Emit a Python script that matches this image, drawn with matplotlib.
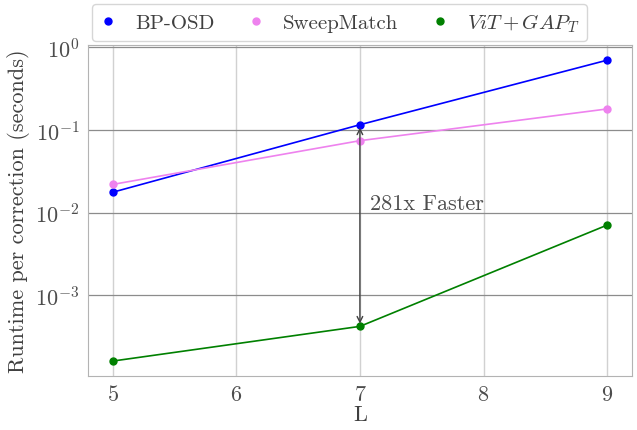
import numpy as np
import matplotlib
matplotlib.use('Agg')
import matplotlib.pyplot as plt

plt.rcParams['font.family'] = 'serif'
plt.rcParams['font.serif'] = ['cmr10']
plt.rcParams['mathtext.fontset'] = 'cm'
plt.rcParams['axes.unicode_minus'] = False
plt.rcParams['axes.formatter.use_mathtext'] = True

L = [5, 7, 9]
bp_osd = [0.0177, 0.116, 0.70]
sweep = [0.022, 0.0744, 0.180]
vit_gap = [1.61e-4, 4.23e-4, 7.1e-3]

fig, ax = plt.subplots(figsize=(6.37, 4.31), dpi=100)

ax.plot(L, bp_osd, color='blue', marker='o', markersize=5, lw=1.2, label='BP-OSD')
ax.plot(L, sweep, color='violet', marker='o', markersize=5, lw=1.2, label='SweepMatch')
ax.plot(L, vit_gap, color='green', marker='o', markersize=5, lw=1.2, label=r'$ViT + GAP_T$')

ax.set_yscale('log')
ax.set_xticks([5, 6, 7, 8, 9])
ax.grid(axis='y', which='major', color='0.55', lw=0.9)
ax.grid(axis='x', which='major', color='0.82', lw=1.0)
ax.set_axisbelow(True)
ax.tick_params(length=0, labelsize=16, pad=6, colors='0.3')
ax.minorticks_off()
for s in ax.spines.values():
    s.set_color('0.7')

ax.set_xlabel('L', fontsize=16, labelpad=0, color='0.25')
ax.set_ylabel('Runtime per correction (seconds)', fontsize=16, color='0.25')

ax.annotate('', xy=(7, bp_osd[1]), xytext=(7, vit_gap[1]),
            arrowprops=dict(arrowstyle='<->', color='0.25', lw=1.0))
ax.text(7.08, 0.013, '281x Faster', fontsize=16, color='0.3', va='center')

# legend markers only
handles = [plt.Line2D([], [], color=c, marker='o', ls='', markersize=5)
           for c in ['blue', 'violet', 'green']]
leg = ax.legend(handles, ['BP-OSD', 'SweepMatch', r'$ViT + GAP_T$'], ncol=3,
                loc='lower left', bbox_to_anchor=(0.0, 1.0), fontsize=15,
                columnspacing=1.6, handlelength=0.8, handletextpad=0.9,
                borderaxespad=0.2, borderpad=0.35, labelcolor='0.25')

fig.subplots_adjust(left=0.138, right=0.992, top=0.893, bottom=0.125)
fig.savefig('out.png', dpi=100)
